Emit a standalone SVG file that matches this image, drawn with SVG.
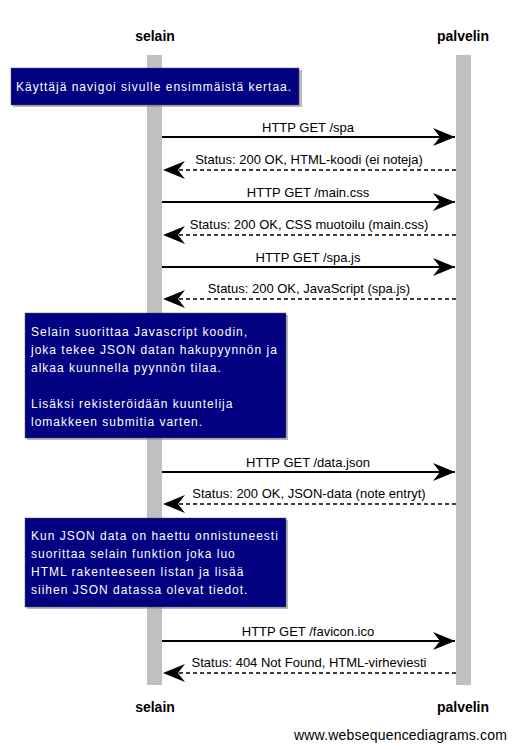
<svg xmlns="http://www.w3.org/2000/svg" width="514" height="749" viewBox="0 0 514 749">
<style>
.actor{font-family:"Liberation Sans",Arial,sans-serif;font-size:14px;font-weight:bold;fill:#000;text-anchor:middle}
.lbl{font-family:"Liberation Sans",Arial,sans-serif;font-size:13px;fill:#000;text-anchor:middle}
.nt{font-family:"Liberation Sans",Arial,sans-serif;font-size:12px;fill:#fff;letter-spacing:1px}
.life{fill:#c0c0c0}
.note{fill:#000080;stroke:#555;stroke-width:0.5}
.shadow{fill:#888;opacity:0.6}
.msg{stroke:#000;stroke-width:2;fill:none}
.ret{stroke:#000;stroke-width:1.5;stroke-dasharray:4,3;fill:none}
.foot{font-family:"Liberation Sans",Arial,sans-serif;font-size:14px;fill:#000;letter-spacing:0.2px}
</style>
<defs>
<marker id="ah" markerWidth="24" markerHeight="20" refX="22" refY="10" orient="auto" markerUnits="userSpaceOnUse">
<path d="M0,1 L22,10 L0,19 L7,10 Z" fill="#000"/>
</marker>
</defs>
<g id="selain-head"><text class="actor" x="155" y="41">selain</text></g>
<g id="palvelin-head"><text class="actor" x="463" y="41">palvelin</text></g>
<g id="lifelines">
<rect class="life" x="147" y="55" width="15" height="630"/>
<rect class="life" x="456" y="55" width="15" height="630"/>
</g>
<g id="note1">
<rect class="shadow" x="13" y="70" width="289" height="37"/>
<rect class="note" x="11" y="68" width="288" height="37"/>
<text class="nt" x="16" y="91">Käyttäjä navigoi sivulle ensimmäistä kertaa.</text>
</g>
<g id="connectors">
<line class="msg" x1="162" y1="137" x2="455" y2="137" marker-end="url(#ah)"/>
<text class="lbl" x="308" y="132">HTTP GET /spa</text>
<line class="ret" x1="456" y1="170" x2="163" y2="170" marker-end="url(#ah)"/>
<text class="lbl" x="309" y="164">Status: 200 OK, HTML-koodi (ei noteja)</text>
<line class="msg" x1="162" y1="202" x2="455" y2="202" marker-end="url(#ah)"/>
<text class="lbl" x="308" y="197">HTTP GET /main.css</text>
<line class="ret" x1="456" y1="235" x2="163" y2="235" marker-end="url(#ah)"/>
<text class="lbl" x="309" y="229">Status: 200 OK, CSS muotoilu (main.css)</text>
<line class="msg" x1="162" y1="267" x2="455" y2="267" marker-end="url(#ah)"/>
<text class="lbl" x="308" y="262">HTTP GET /spa.js</text>
<line class="ret" x1="456" y1="299" x2="163" y2="299" marker-end="url(#ah)"/>
<text class="lbl" x="309" y="293">Status: 200 OK, JavaScript (spa.js)</text>
<line class="msg" x1="162" y1="472" x2="455" y2="472" marker-end="url(#ah)"/>
<text class="lbl" x="308" y="467">HTTP GET /data.json</text>
<line class="ret" x1="456" y1="504" x2="163" y2="504" marker-end="url(#ah)"/>
<text class="lbl" x="309" y="498">Status: 200 OK, JSON-data (note entryt)</text>
<line class="msg" x1="162" y1="641" x2="455" y2="641" marker-end="url(#ah)"/>
<text class="lbl" x="308" y="636">HTTP GET /favicon.ico</text>
<line class="ret" x1="456" y1="673" x2="163" y2="673" marker-end="url(#ah)"/>
<text class="lbl" x="309" y="667">Status: 404 Not Found, HTML-virheviesti</text>
</g>
<g id="note2">
<rect class="shadow" x="27" y="315" width="261" height="125"/>
<rect class="note" x="25" y="313" width="261" height="125"/>
<text class="nt" x="31" y="336">Selain suorittaa Javascript koodin,</text>
<text class="nt" x="31" y="354">joka tekee JSON datan hakupyynnön ja</text>
<text class="nt" x="31" y="372">alkaa kuunnella pyynnön tilaa.</text>
<text class="nt" x="31" y="408">Lisäksi rekisteröidään kuuntelija</text>
<text class="nt" x="31" y="426">lomakkeen submitia varten.</text>
</g>
<g id="note3">
<rect class="shadow" x="27" y="520" width="261" height="89"/>
<rect class="note" x="25" y="518" width="261" height="89"/>
<text class="nt" x="31" y="540">Kun JSON data on haettu onnistuneesti</text>
<text class="nt" x="31" y="558">suorittaa selain funktion joka luo</text>
<text class="nt" x="31" y="576">HTML rakenteeseen listan ja lisää</text>
<text class="nt" x="31" y="594">siihen JSON datassa olevat tiedot.</text>
</g>
<g id="selain-foot"><text class="actor" x="155" y="712">selain</text></g>
<g id="palvelin-foot"><text class="actor" x="463" y="712">palvelin</text></g>
<text class="foot" x="294" y="740">www.websequencediagrams.com</text>
</svg>
